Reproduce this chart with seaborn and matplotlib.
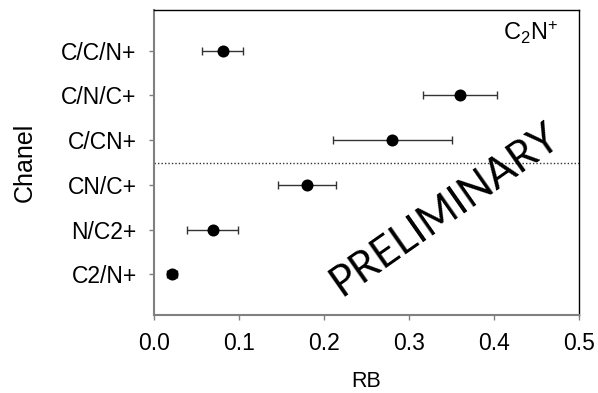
import numpy as np
import pandas as pd
import matplotlib
matplotlib.use("Agg")
import matplotlib.pyplot as plt
import seaborn as sns

channels = ["C/C/N+", "C/N/C+", "C/CN+", "CN/C+", "N/C2+", "C2/N+"]
rb_values = [0.081, 0.360, 0.280, 0.180, 0.069, 0.021]
rb_errors = [0.024, 0.043, 0.070, 0.034, 0.030, 0.006]
x_ticks = [0.0, 0.1, 0.2, 0.3, 0.4, 0.5]
x_tick_labels = ["0.0", "0.1", "0.2", "0.3", "0.4", "0.5"]

df = pd.DataFrame({"Chanel": channels, "RB": rb_values, "err": rb_errors})
df["pos"] = np.arange(len(channels))

sns.set_theme(style="white")
plt.rcParams["font.family"] = ["Liberation Sans", "DejaVu Sans"]
plt.rcParams["mathtext.fontset"] = "custom"
plt.rcParams["mathtext.rm"] = "Liberation Sans"
plt.rcParams["mathtext.it"] = "Liberation Sans"
plt.rcParams["mathtext.bf"] = "Liberation Sans:bold"

fig = plt.figure(figsize=(5.98, 3.93), dpi=100)
ax = fig.add_axes([154 / 598, 1 - 315 / 393, 425 / 598, 305 / 393])

ax.errorbar(df["RB"], df["pos"], xerr=df["err"], fmt="none", ecolor="#333333",
            elinewidth=1.0, capsize=3, capthick=1.0, zorder=2)
sns.scatterplot(data=df, x="RB", y="pos", ax=ax, color="black", s=75,
                edgecolor="black", linewidth=0, zorder=3, legend=False)

ax.axhline(2.5, color="#333333", lw=1.0, ls=(0, (1, 1.5)), zorder=1)

ax.set_xlim(0, 0.5)
ax.set_ylim(len(channels) - 1 + 0.91, -0.91)
ax.set_xticks(x_ticks)
ax.set_xticklabels(x_tick_labels)
ax.set_yticks(df["pos"])
ax.set_yticklabels(channels)

ax.set_xlabel("RB", fontsize=15.5, labelpad=11, color="black")
ax.set_ylabel("Chanel", fontsize=18, labelpad=18, color="black")

for side in ["left", "bottom"]:
    ax.spines[side].set_color("#808080")
    ax.spines[side].set_linewidth(1.5)
for side in ["top", "right"]:
    ax.spines[side].set_color("black")
    ax.spines[side].set_linewidth(1.0)
    ax.spines[side].set_visible(True)

ax.tick_params(axis="both", which="major", direction="out", length=3.5,
               width=1.0, color="#808080", labelsize=16.5, labelcolor="black")
ax.tick_params(axis="y", pad=9, left=True)
ax.tick_params(axis="x", pad=9, bottom=True)

ax.text(0.885, 0.925, r"C$_\mathregular{2}$N$^\mathregular{+}$",
        transform=ax.transAxes, ha="center", va="center", fontsize=17,
        color="black")

ax.text(0.683, 0.345, "PRELIMINARY", transform=ax.transAxes, ha="center",
        va="center", rotation=35, rotation_mode="anchor", fontsize=30,
        family=["Lato", "DejaVu Sans"], color="black")

fig.savefig("out.png", dpi=100)
